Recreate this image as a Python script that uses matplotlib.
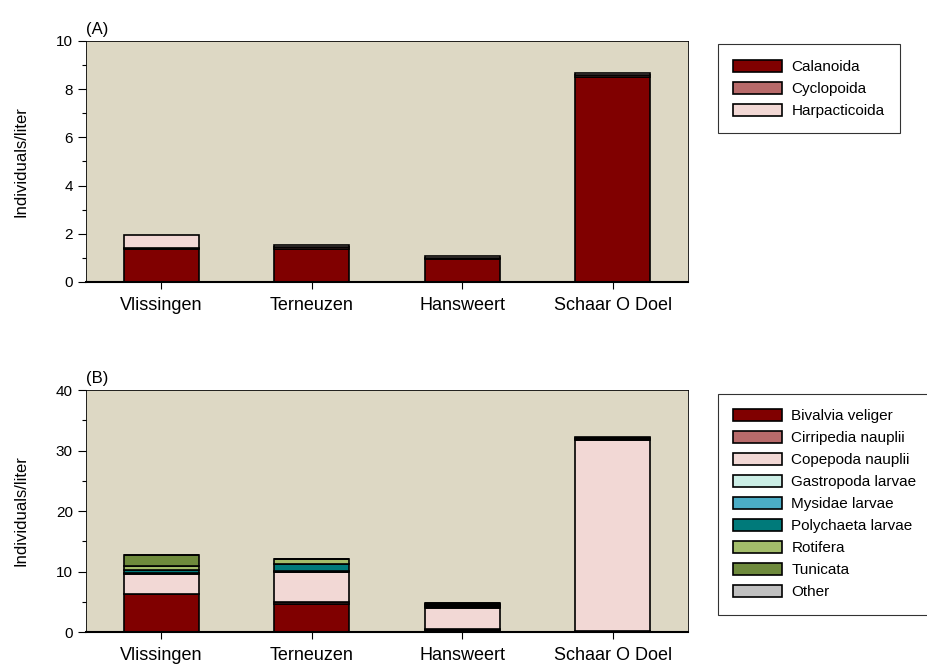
import matplotlib
matplotlib.use("Agg")
import matplotlib.pyplot as plt
import numpy as np

plt.rcParams["font.family"] = ["Liberation Sans", "DejaVu Sans"]

sites = ["Vlissingen", "Terneuzen", "Hansweert", "Schaar O Doel"]

# panel A - copepods
cope_names = ["Calanoida", "Cyclopoida", "Harpacticoida"]
calanoida = [1.38, 1.35, 0.94, 8.50]
cyclopoida = [0.02, 0.08, 0.04, 0.10]
harpacticoida = [0.55, 0.12, 0.11, 0.08]
cope_colors = ["#800000", "#B86A6A", "#F2D8D5"]

# panel B - other groups
other_names = ["Bivalvia veliger", "Cirripedia nauplii", "Copepoda nauplii",
               "Gastropoda larvae", "Mysidae larvae", "Polychaeta larvae",
               "Rotifera", "Tunicata", "Other"]
bivalvia = [6.2, 4.6, 0.4, 0.2]
cirripedia = [0.05, 0.35, 0.05, 0.02]
copepoda_n = [3.35, 4.95, 3.5, 31.6]
gastropoda = [0.1, 0.05, 0.15, 0.05]
mysidae = [0.1, 0.1, 0.15, 0.05]
polychaeta = [0.45, 1.2, 0.2, 0.1]
rotifera = [0.6, 0.8, 0.15, 0.05]
tunicata = [1.9, 0.05, 0.15, 0.05]
other = [0.05, 0.05, 0.1, 0.05]
other_colors = ["#800000", "#B86A6A", "#F2D8D5", "#CCEEE6", "#4BADC6",
                "#007A7A", "#A3BD6A", "#6E8A3C", "#C0C0C0"]

bg = "#DDD8C4"
x = np.arange(len(sites))


def stacked(ax, series, names, colors):
    bottom = np.zeros(len(sites))
    for vals, name, col in zip(series, names, colors):
        ax.bar(x, vals, 0.5, bottom=bottom, color=col, edgecolor="black",
               linewidth=1.2, label=name)
        bottom += np.array(vals)


fig = plt.figure(figsize=(9.28, 6.69), dpi=100)
axA = fig.add_axes([0.0927, 0.5785, 0.6485, 0.3605])
axB = fig.add_axes([0.0927, 0.0553, 0.6485, 0.3617])

stacked(axA, [calanoida, cyclopoida, harpacticoida], cope_names, cope_colors)
stacked(axB, [bivalvia, cirripedia, copepoda_n, gastropoda, mysidae,
              polychaeta, rotifera, tunicata, other], other_names, other_colors)

for ax, top, minor, lab in [(axA, 10, 1, "(A)"), (axB, 40, 5, "(B)")]:
    ax.set_facecolor(bg)
    ax.set_xlim(-0.5, 3.5)
    ax.set_ylim(0, top)
    ax.set_yticks(np.arange(0, top + 1, 2 * minor))
    ax.set_yticks(np.arange(minor, top, 2 * minor), minor=True)
    ax.set_xticks(x)
    ax.set_xticklabels(sites, fontsize=13)
    ax.tick_params(axis="y", labelsize=11, direction="out", length=6, width=0.8)
    ax.tick_params(axis="y", which="minor", length=3, width=0.8)
    ax.tick_params(axis="x", direction="out", length=5, width=0.8, pad=6)
    ax.set_ylabel("Individuals/liter", fontsize=12, labelpad=20)
    for s in ["top", "right", "left"]:
        ax.spines[s].set_linewidth(0.6)
    ax.spines["bottom"].set_linewidth(1.5)
    ax.text(0.0, 1.015, lab, transform=ax.transAxes, fontsize=12, ha="left", va="bottom")

for ax in (axA, axB):
    leg = ax.legend(loc="upper left", bbox_to_anchor=(1.05, 0.985), fontsize=11,
                    frameon=True, fancybox=False, edgecolor="black",
                    handlelength=3.2, handleheight=0.85, borderpad=1.0,
                    labelspacing=0.5, handletextpad=0.6, borderaxespad=0)
    leg.get_frame().set_linewidth(0.8)

fig.savefig("out.png", dpi=100)
